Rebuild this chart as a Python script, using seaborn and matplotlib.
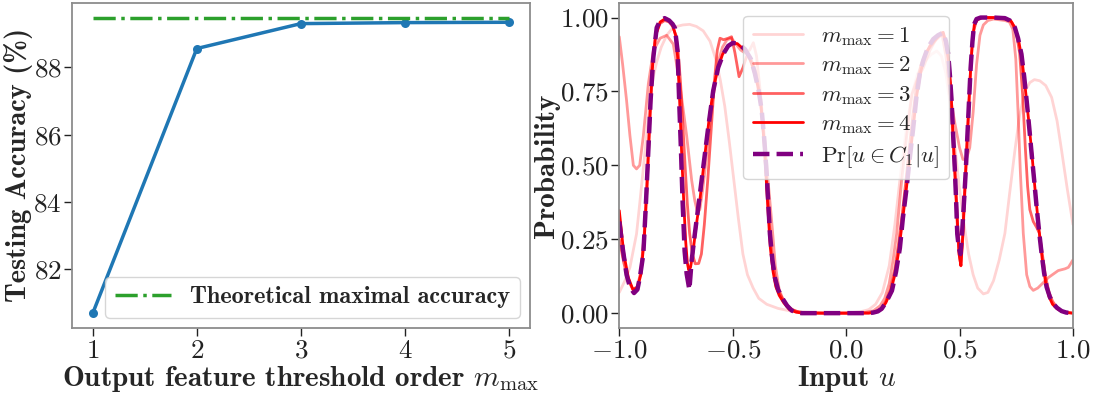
import matplotlib
matplotlib.use("Agg")
import matplotlib.pyplot as plt
import seaborn as sns
import pandas as pd

# ---------------- data ----------------
orders = [1, 2, 3, 4, 5]
test_acc = [80.70, 88.56, 89.30, 89.33, 89.34]
theoretical_acc = 89.48

true_u = [-1.0, -0.985, -0.968, -0.953, -0.935, -0.92, -0.909, -0.894, -0.882, -0.872,
          -0.862, -0.85, -0.835, -0.82, -0.80, -0.78, -0.765, -0.755, -0.743, -0.736,
          -0.728, -0.721, -0.712, -0.703, -0.691, -0.681, -0.667, -0.652, -0.63, -0.608,
          -0.586, -0.564, -0.542, -0.52, -0.50, -0.475, -0.446, -0.42, -0.402, -0.385,
          -0.372, -0.36, -0.35, -0.343, -0.336, -0.325, -0.314, -0.30, -0.284, -0.26,
          -0.24, -0.22, -0.196, -0.15, -0.1, -0.05, 0.0, 0.05, 0.1, 0.12,
          0.14, 0.157, 0.17, 0.185, 0.202, 0.22, 0.237, 0.25, 0.266, 0.28,
          0.296, 0.31, 0.325, 0.34, 0.355, 0.37, 0.384, 0.405, 0.428, 0.44,
          0.45, 0.458, 0.465, 0.472, 0.479, 0.485, 0.49, 0.497, 0.504, 0.512,
          0.52, 0.528, 0.535, 0.542, 0.549, 0.557, 0.564, 0.575, 0.593, 0.65,
          0.70, 0.722, 0.733, 0.744, 0.758, 0.773, 0.785, 0.796, 0.807, 0.818,
          0.829, 0.84, 0.851, 0.862, 0.873, 0.884, 0.898, 0.913, 0.93, 0.95,
          0.97, 1.0]
true_p = [0.31, 0.22, 0.13, 0.088, 0.068, 0.08, 0.122, 0.20, 0.38, 0.55,
          0.72, 0.865, 0.966, 0.99, 0.998, 0.99, 0.978, 0.965, 0.887, 0.718,
          0.55, 0.38, 0.21, 0.133, 0.079, 0.178, 0.268, 0.358, 0.493, 0.628,
          0.752, 0.831, 0.876, 0.904, 0.914, 0.912, 0.893, 0.86, 0.81, 0.75,
          0.685, 0.58, 0.47, 0.37, 0.268, 0.18, 0.12, 0.08, 0.054, 0.025,
          0.009, 0.002, 0.0, 0.0, 0.0, 0.0, 0.0, 0.0, 0.0, 0.002,
          0.006, 0.015, 0.03, 0.05, 0.076, 0.14, 0.22, 0.32, 0.42, 0.52,
          0.628, 0.73, 0.81, 0.855, 0.887, 0.91, 0.927, 0.94, 0.949, 0.92,
          0.876, 0.80, 0.718, 0.60, 0.493, 0.38, 0.268, 0.22, 0.20, 0.28,
          0.38, 0.49, 0.606, 0.72, 0.831, 0.92, 0.977, 0.995, 1.0, 1.0,
          0.998, 0.99, 0.98, 0.966, 0.93, 0.876, 0.80, 0.718, 0.63, 0.538,
          0.45, 0.358, 0.275, 0.20, 0.135, 0.088, 0.055, 0.032, 0.018, 0.007,
          0.002, 0.0]

m1_pts = [(-1.0, 0.07), (-0.975, 0.11), (-0.953, 0.155), (-0.924, 0.268), (-0.91, 0.37),
          (-0.894, 0.49), (-0.88, 0.6), (-0.865, 0.72), (-0.85, 0.8), (-0.835, 0.85),
          (-0.815, 0.9), (-0.791, 0.94), (-0.77, 0.96), (-0.747, 0.97), (-0.72, 0.975),
          (-0.69, 0.977), (-0.66, 0.97), (-0.63, 0.955), (-0.60, 0.92), (-0.575, 0.86),
          (-0.555, 0.79), (-0.535, 0.7), (-0.515, 0.58), (-0.495, 0.45), (-0.475, 0.32),
          (-0.455, 0.2), (-0.435, 0.13), (-0.41, 0.085), (-0.385, 0.05), (-0.35, 0.03),
          (-0.3, 0.016), (-0.25, 0.008), (-0.2, 0.004), (-0.1, 0.001), (0.0, 0.001),
          (0.06, 0.004), (0.1, 0.012), (0.13, 0.03), (0.16, 0.07), (0.19, 0.16),
          (0.215, 0.3), (0.24, 0.47), (0.265, 0.62), (0.29, 0.74), (0.315, 0.81),
          (0.345, 0.85), (0.375, 0.875), (0.40, 0.887), (0.42, 0.87), (0.44, 0.81),
          (0.46, 0.7), (0.48, 0.56), (0.50, 0.42), (0.52, 0.3), (0.54, 0.2),
          (0.56, 0.13), (0.58, 0.085), (0.605, 0.065), (0.625, 0.07), (0.65, 0.11),
          (0.675, 0.18), (0.70, 0.27), (0.72, 0.4), (0.744, 0.55), (0.765, 0.67),
          (0.788, 0.75), (0.81, 0.78), (0.83, 0.79), (0.854, 0.786), (0.88, 0.77),
          (0.906, 0.73), (0.93, 0.65), (0.95, 0.55), (0.975, 0.42), (1.0, 0.30)]

m2_pts = [(-1.0, 0.935), (-0.985, 0.84), (-0.968, 0.72), (-0.953, 0.6), (-0.938, 0.5),
          (-0.924, 0.488), (-0.91, 0.5), (-0.894, 0.6), (-0.872, 0.775), (-0.85, 0.887),
          (-0.82, 0.93), (-0.791, 0.94), (-0.762, 0.91), (-0.733, 0.775), (-0.703, 0.6),
          (-0.681, 0.45), (-0.667, 0.38), (-0.655, 0.34), (-0.645, 0.35), (-0.632, 0.42),
          (-0.62, 0.5), (-0.605, 0.61), (-0.59, 0.71), (-0.575, 0.79), (-0.56, 0.86),
          (-0.545, 0.9), (-0.525, 0.925), (-0.505, 0.93), (-0.485, 0.91), (-0.465, 0.89),
          (-0.445, 0.88), (-0.425, 0.89), (-0.409, 0.915), (-0.395, 0.87), (-0.38, 0.76),
          (-0.368, 0.66), (-0.356, 0.56), (-0.342, 0.43), (-0.327, 0.3), (-0.312, 0.16),
          (-0.295, 0.08), (-0.275, 0.04), (-0.25, 0.018), (-0.22, 0.006), (-0.18, 0.001),
          (-0.1, 0.0), (0.0, 0.0), (0.08, 0.002), (0.12, 0.008), (0.15, 0.025),
          (0.17, 0.05), (0.19, 0.1), (0.207, 0.18), (0.223, 0.27), (0.245, 0.45),
          (0.267, 0.6), (0.29, 0.74), (0.311, 0.786), (0.34, 0.83), (0.37, 0.89),
          (0.399, 0.93), (0.421, 0.95), (0.44, 0.87), (0.458, 0.74), (0.48, 0.64),
          (0.50, 0.56), (0.515, 0.52), (0.53, 0.52), (0.545, 0.56), (0.56, 0.68),
          (0.575, 0.84), (0.59, 0.94), (0.605, 0.975), (0.625, 0.99), (0.65, 0.995),
          (0.70, 0.99), (0.72, 0.985), (0.735, 0.96), (0.748, 0.86), (0.758, 0.68),
          (0.768, 0.48), (0.781, 0.27), (0.796, 0.13), (0.81, 0.09), (0.825, 0.077),
          (0.845, 0.085), (0.865, 0.1), (0.891, 0.12), (0.935, 0.144), (0.965, 0.15),
          (0.98, 0.155), (1.0, 0.18)]

m3_pts = [(-1.0, 0.25), (-0.98, 0.17), (-0.96, 0.11), (-0.94, 0.08), (-0.92, 0.09),
          (-0.905, 0.14), (-0.89, 0.27), (-0.878, 0.45), (-0.866, 0.66), (-0.855, 0.83),
          (-0.84, 0.94), (-0.82, 0.98), (-0.80, 0.99), (-0.78, 0.985), (-0.765, 0.97),
          (-0.75, 0.94), (-0.74, 0.88), (-0.73, 0.78), (-0.72, 0.64), (-0.71, 0.5),
          (-0.70, 0.37), (-0.69, 0.27), (-0.678, 0.2), (-0.665, 0.167), (-0.65, 0.168),
          (-0.638, 0.2), (-0.625, 0.3), (-0.61, 0.45), (-0.595, 0.62), (-0.58, 0.79),
          (-0.568, 0.89), (-0.556, 0.93), (-0.54, 0.925), (-0.52, 0.93), (-0.505, 0.935),
          (-0.49, 0.88), (-0.472, 0.80), (-0.455, 0.83), (-0.438, 0.87), (-0.42, 0.86),
          (-0.40, 0.82), (-0.385, 0.76), (-0.37, 0.66), (-0.358, 0.55), (-0.348, 0.42),
          (-0.338, 0.3), (-0.326, 0.19), (-0.312, 0.12), (-0.295, 0.07), (-0.27, 0.035),
          (-0.24, 0.012), (-0.2, 0.002), (-0.1, 0.0), (0.0, 0.0), (0.1, 0.001),
          (0.13, 0.005), (0.155, 0.015), (0.175, 0.04), (0.195, 0.08), (0.215, 0.15),
          (0.232, 0.24), (0.248, 0.34), (0.264, 0.45), (0.28, 0.57), (0.296, 0.68),
          (0.312, 0.78), (0.33, 0.84), (0.35, 0.88), (0.37, 0.9), (0.39, 0.92),
          (0.41, 0.935), (0.428, 0.945), (0.44, 0.91), (0.45, 0.86), (0.46, 0.76),
          (0.47, 0.6), (0.48, 0.45), (0.49, 0.3), (0.498, 0.2), (0.506, 0.16),
          (0.514, 0.25), (0.522, 0.38), (0.53, 0.52), (0.54, 0.68), (0.55, 0.84),
          (0.56, 0.95), (0.575, 0.99), (0.60, 1.0), (0.65, 1.0), (0.70, 0.995),
          (0.73, 0.985), (0.75, 0.95), (0.765, 0.88), (0.778, 0.74), (0.79, 0.56),
          (0.80, 0.43), (0.81, 0.35), (0.825, 0.31), (0.84, 0.29), (0.852, 0.27),
          (0.865, 0.2), (0.88, 0.12), (0.895, 0.07), (0.91, 0.04), (0.93, 0.018),
          (0.95, 0.007), (0.975, 0.002), (1.0, 0.0)]

m4_pts = [(-1.0, 0.347), (-0.98, 0.2), (-0.96, 0.12), (-0.94, 0.08), (-0.92, 0.085),
          (-0.905, 0.13), (-0.89, 0.25), (-0.878, 0.42), (-0.866, 0.64), (-0.855, 0.82),
          (-0.84, 0.94), (-0.82, 0.985), (-0.80, 0.995), (-0.78, 0.99), (-0.765, 0.975),
          (-0.752, 0.94), (-0.742, 0.86), (-0.733, 0.7), (-0.724, 0.52), (-0.716, 0.38),
          (-0.708, 0.25), (-0.70, 0.17), (-0.694, 0.146), (-0.686, 0.155), (-0.676, 0.2),
          (-0.662, 0.29), (-0.645, 0.38), (-0.625, 0.52), (-0.605, 0.65), (-0.585, 0.76),
          (-0.565, 0.83), (-0.545, 0.875), (-0.525, 0.9), (-0.505, 0.912), (-0.48, 0.912),
          (-0.455, 0.895), (-0.43, 0.87), (-0.41, 0.83), (-0.39, 0.77), (-0.375, 0.7),
          (-0.362, 0.58), (-0.352, 0.45), (-0.343, 0.33), (-0.334, 0.22), (-0.322, 0.14),
          (-0.31, 0.09), (-0.295, 0.06), (-0.275, 0.035), (-0.25, 0.012), (-0.22, 0.003),
          (-0.19, 0.0), (-0.1, 0.0), (0.0, 0.0), (0.1, 0.0), (0.13, 0.003),
          (0.155, 0.012), (0.175, 0.035), (0.195, 0.07), (0.215, 0.13), (0.232, 0.21),
          (0.248, 0.31), (0.264, 0.41), (0.28, 0.52), (0.296, 0.63), (0.312, 0.74),
          (0.33, 0.82), (0.35, 0.875), (0.37, 0.905), (0.39, 0.925), (0.41, 0.94),
          (0.428, 0.95), (0.44, 0.915), (0.45, 0.87), (0.46, 0.78), (0.47, 0.63),
          (0.48, 0.48), (0.49, 0.32), (0.498, 0.2), (0.506, 0.161), (0.514, 0.26),
          (0.522, 0.4), (0.53, 0.53), (0.538, 0.66), (0.546, 0.79), (0.555, 0.9),
          (0.565, 0.975), (0.58, 0.995), (0.60, 1.0), (0.65, 1.0), (0.70, 0.997),
          (0.725, 0.99), (0.745, 0.965), (0.76, 0.925), (0.775, 0.86), (0.79, 0.76),
          (0.805, 0.65), (0.82, 0.53), (0.835, 0.4), (0.85, 0.285), (0.865, 0.18),
          (0.88, 0.1), (0.895, 0.055), (0.91, 0.03), (0.93, 0.015), (0.95, 0.006),
          (0.975, 0.002), (1.0, 0.0)]

m_labels = [r"$m_{\max}=1$", r"$m_{\max}=2$", r"$m_{\max}=3$", r"$m_{\max}=4$"]
m_alphas = [0.17, 0.4, 0.62, 1.0]
true_label = r"$\Pr[u\in C_1|u]$"
theo_label = "Theoretical maximal accuracy"

# ---------------- style ----------------
sns.set_style("ticks")
plt.rcParams.update({
    "font.family": "cmr10",
    "mathtext.fontset": "cm",
    "axes.formatter.use_mathtext": True,
    "axes.unicode_minus": True,
    "axes.edgecolor": "#8c8c8c",
    "axes.linewidth": 1.3,
    "xtick.major.size": 5.5,
    "ytick.major.size": 5.5,
    "xtick.major.width": 1.0,
    "ytick.major.width": 1.0,
    "xtick.major.pad": 2.5,
    "ytick.major.pad": 2.0,
    "xtick.color": "#222222",
    "ytick.color": "#222222",
    "xtick.labelsize": 19.5,
    "ytick.labelsize": 19.5,
})
BOLD = "cmb10"
LABEL_SIZE = 21

fig = plt.figure(figsize=(10.99, 3.97), dpi=100)
ax1 = fig.add_axes([0.0655, 0.174, 0.4165, 0.819])
ax2 = fig.add_axes([0.5635, 0.174, 0.4128, 0.819])

# ---------------- left panel ----------------
df_acc = pd.DataFrame({"order": orders, "acc": test_acc})
df_theo = pd.DataFrame({"order": orders, "acc": [theoretical_acc] * len(orders)})
sns.lineplot(data=df_acc, x="order", y="acc", ax=ax1, color="#1f77b4", lw=2.5,
             marker="o", markersize=6.5, markeredgewidth=0, estimator=None)
sns.lineplot(data=df_theo, x="order", y="acc", ax=ax1, color="#2ca02c", lw=2.5,
             linestyle="-.", label=theo_label, estimator=None)
ax1.set_yticks([82, 84, 86, 88])
ax1.set_xticks(orders)
ax1.set_xlabel(r"Output feature threshold order $m_{\max}$", fontfamily=BOLD,
               fontsize=LABEL_SIZE, labelpad=1)
ax1.set_ylabel("Testing Accuracy (%)", fontfamily=BOLD, fontsize=20.5)
ax1.yaxis.set_label_coords(-0.086, 0.5)
ax1.legend(loc="lower right", prop={"family": BOLD, "size": 17.5},
           handlelength=2.3, borderaxespad=0.4)

# ---------------- right panel ----------------
for pts, lab, al in zip([m1_pts, m2_pts, m3_pts, m4_pts], m_labels, m_alphas):
    df = pd.DataFrame(pts, columns=["u", "p"])
    sns.lineplot(data=df, x="u", y="p", ax=ax2, color="red", alpha=al, lw=2,
                 label=lab, estimator=None, sort=False)
df_true = pd.DataFrame({"u": true_u, "p": true_p})
sns.lineplot(data=df_true, x="u", y="p", ax=ax2, color="purple", lw=3.2,
             linestyle="--", label=true_label, estimator=None, sort=False)
ax2.set_xlim(-1.0, 1.0)
ax2.set_ylim(-0.05, 1.05)
ax2.set_xticks([-1.0, -0.5, 0.0, 0.5, 1.0])
ax2.set_yticks([0.0, 0.25, 0.5, 0.75, 1.0])
ax2.set_xlabel(r"Input $u$", fontfamily=BOLD, fontsize=LABEL_SIZE, labelpad=1)
ax2.set_ylabel("Probability", fontfamily=BOLD, fontsize=LABEL_SIZE)
ax2.yaxis.set_label_coords(-0.13, 0.5)
ax2.legend(loc="upper center", bbox_to_anchor=(0.5, 0.995), fontsize=16.5,
           handlelength=2.2, labelspacing=0.28)

for ax in (ax1, ax2):
    for s in ax.spines.values():
        s.set_visible(True)

fig.savefig("out.png", dpi=100)
